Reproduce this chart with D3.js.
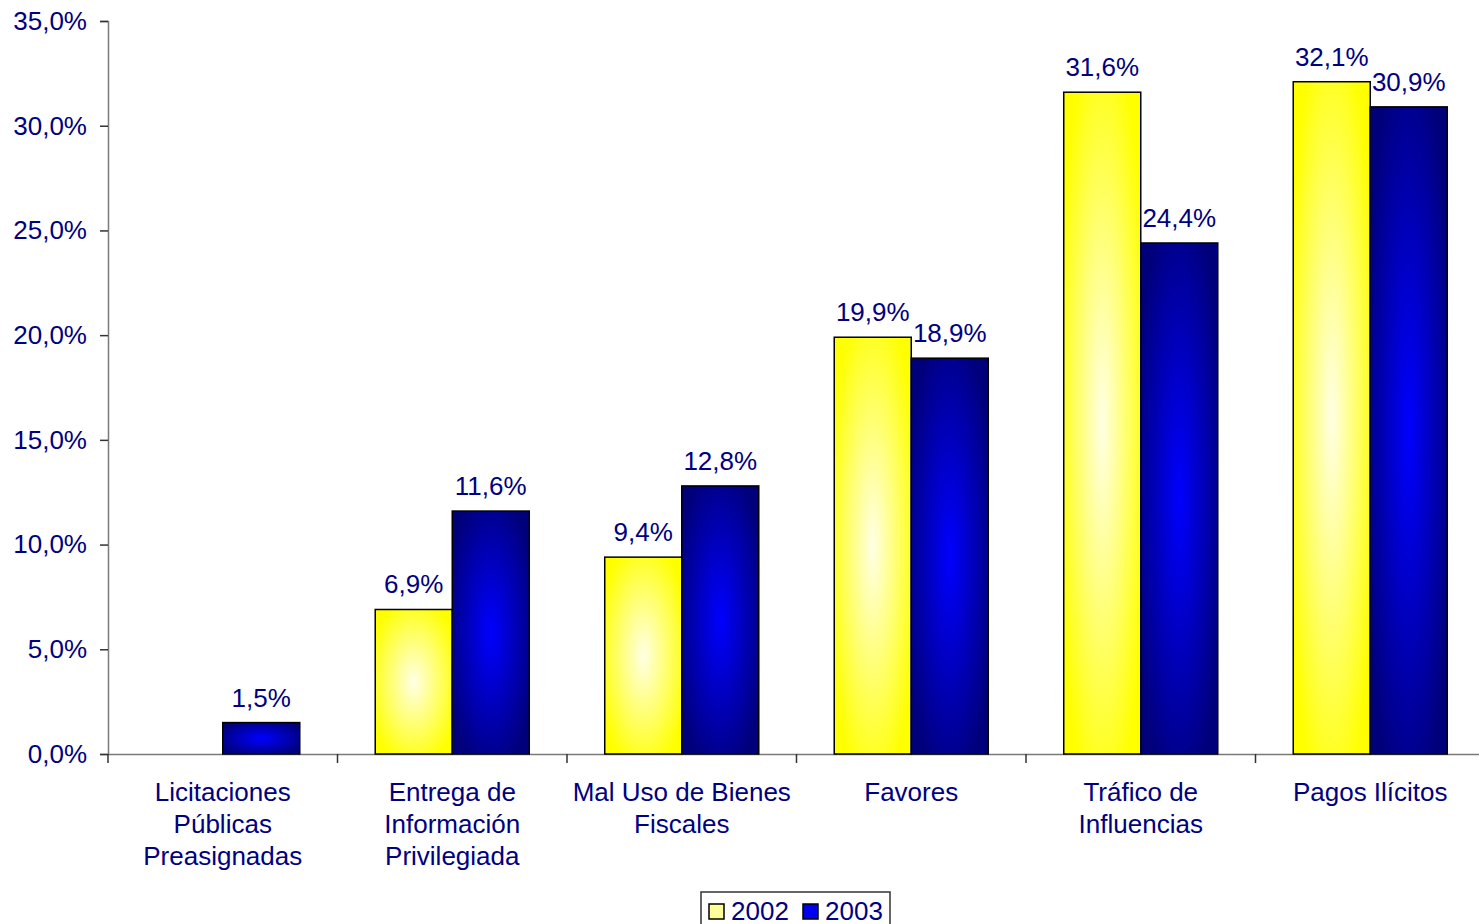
<!DOCTYPE html>
<html>
<head>
<meta charset="utf-8">
<script src="https://cdn.jsdelivr.net/npm/d3@7"></script>
<style>
  html, body { margin: 0; padding: 0; background: #fff; }
  svg { display: block; font-family: "Liberation Sans", Arial, sans-serif; }
</style>
</head>
<body>
<div id="container"></div>
<script>
const categories = [
  ["Licitaciones", "Públicas", "Preasignadas"],
  ["Entrega de", "Información", "Privilegiada"],
  ["Mal Uso de Bienes", "Fiscales"],
  ["Favores"],
  ["Tráfico de", "Influencias"],
  ["Pagos Ilícitos"]
];
const seriesNames = ["2002", "2003"];
const values2002  = [null, 6.9, 9.4, 19.9, 31.6, 32.1];
const values2003  = [1.5, 11.6, 12.8, 18.9, 24.4, 30.9];
const yTicks      = [0, 5, 10, 15, 20, 25, 30, 35];

const width  = 1479;
const height = 924;
const margin = { top: 21, right: -6, bottom: 170, left: 108 };
const navy   = "#000080";
const axisCol = "#7a7a7a";
const fs = 26;

const locale = d3.formatLocale({ decimal: ",", thousands: ".", grouping: [3], currency: ["", ""] });
const fmt = locale.format(".1f");

const keys = categories.map((c, i) => i);
const rows = keys.map(i => ({
  i,
  vals: [
    { s: 0, v: values2002[i] },
    { s: 1, v: values2003[i] }
  ]
}));

const svg = d3.select("#container")
  .append("svg")
    .attr("width", width)
    .attr("height", height);

// gradients: light centre fading to the edges
const defs = svg.append("defs");
const grads = [
  { id: "g2002", inner: "#ffffe6", outer: "#ffff00" },
  { id: "g2003", inner: "#0000ff", outer: "#00007a" }
];
grads.forEach(g => {
  const rg = defs.append("radialGradient")
    .attr("id", g.id)
    .attr("cx", "50%").attr("cy", "50%").attr("r", "60%");
  rg.append("stop").attr("offset", "0%").attr("stop-color", g.inner);
  rg.append("stop").attr("offset", "100%").attr("stop-color", g.outer);
});

const x0 = d3.scaleBand()
  .domain(keys)
  .range([margin.left, width - margin.right])
  .padding(0);

const x1 = d3.scaleBand()
  .domain([0, 1])
  .range([0, x0.bandwidth()])
  .paddingInner(0)
  .paddingOuter(0.49);

const y = d3.scaleLinear()
  .domain([0, 35])
  .range([height - margin.bottom, margin.top]);

// Y axis
const yAxis = svg.append("g")
  .attr("transform", `translate(${margin.left},0)`)
  .call(d3.axisLeft(y).tickValues(yTicks).tickFormat(d => fmt(d) + "%").tickSize(8).tickPadding(13));
yAxis.select(".domain").attr("stroke", axisCol).attr("stroke-width", 1.5);
yAxis.selectAll(".tick line").attr("stroke", "#333").attr("stroke-width", 1.5);
yAxis.selectAll(".tick text")
  .attr("fill", navy)
  .attr("font-size", fs)
  .attr("font-family", "Liberation Sans, Arial, sans-serif");

// X axis
const xAxis = svg.append("g")
  .attr("transform", `translate(0,${y(0)})`)
  .call(d3.axisBottom(x0).tickSize(0).tickFormat(""));
xAxis.select(".domain").attr("stroke", axisCol).attr("stroke-width", 1.5);
xAxis.selectAll(".tick").remove();

// boundary ticks
xAxis.selectAll("line.bound")
  .data(keys.concat([keys.length]))
  .join("line")
    .attr("class", "bound")
    .attr("x1", d => d < keys.length ? x0(d) : x0(keys.length - 1) + x0.bandwidth())
    .attr("x2", d => d < keys.length ? x0(d) : x0(keys.length - 1) + x0.bandwidth())
    .attr("y1", 0)
    .attr("y2", 9)
    .attr("stroke", "#333")
    .attr("stroke-width", 1.5);

// category labels
const catG = svg.append("g")
  .selectAll("text")
  .data(keys)
  .join("text")
    .attr("x", d => x0(d) + x0.bandwidth() / 2)
    .attr("y", y(0) + 47)
    .attr("text-anchor", "middle")
    .attr("fill", navy)
    .attr("font-size", fs);
catG.selectAll("tspan")
  .data(d => categories[d].map(t => ({ t, x: x0(d) + x0.bandwidth() / 2 })))
  .join("tspan")
    .attr("x", d => d.x)
    .attr("dy", (d, i) => i === 0 ? 0 : 32)
    .text(d => d.t);

// bars
const groups = svg.append("g")
  .selectAll("g")
  .data(rows)
  .join("g")
    .attr("transform", d => `translate(${x0(d.i)},0)`);

groups.selectAll("rect")
  .data(d => d.vals.filter(v => v.v != null))
  .join("rect")
    .attr("x", d => x1(d.s))
    .attr("y", d => y(d.v))
    .attr("width", x1.bandwidth())
    .attr("height", d => y(0) - y(d.v))
    .attr("fill", d => `url(#${grads[d.s].id})`)
    .attr("stroke", "#000")
    .attr("stroke-width", 1.5);

groups.selectAll("text")
  .data(d => d.vals.filter(v => v.v != null))
  .join("text")
    .attr("x", d => x1(d.s) + x1.bandwidth() / 2)
    .attr("y", d => y(d.v) - 16)
    .attr("text-anchor", "middle")
    .attr("fill", navy)
    .attr("font-size", fs)
    .text(d => fmt(d.v) + "%");

// legend
const legend = svg.append("g").attr("transform", "translate(701,892)");
legend.append("rect")
  .attr("x", 0).attr("y", 0)
  .attr("width", 189).attr("height", 40)
  .attr("fill", "#fff")
  .attr("stroke", "#333")
  .attr("stroke-width", 1.5);
const swatchFill = ["#ffff99", "#0000ee"];
const li = legend.selectAll("g.item")
  .data(seriesNames)
  .join("g")
    .attr("class", "item")
    .attr("transform", (d, i) => `translate(${8 + i * 94},0)`);
li.append("rect")
  .attr("x", 0).attr("y", 12)
  .attr("width", 15).attr("height", 15)
  .attr("fill", (d, i) => swatchFill[i])
  .attr("stroke", "#000")
  .attr("stroke-width", 1.5);
li.append("text")
  .attr("x", 22).attr("y", 28)
  .attr("fill", navy)
  .attr("font-size", fs)
  .text(d => d);
</script>
</body>
</html>
